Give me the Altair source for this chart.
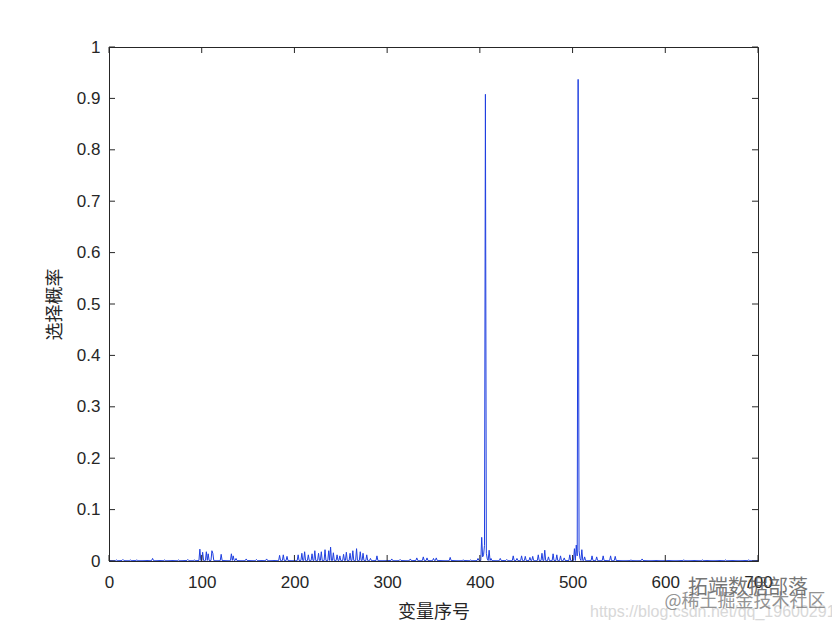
import altair as alt
import pandas as pd

# ---- data (sparse: unlisted variables sit at the baseline) ----
n_vars = 700
baseline = 0.001
spike_idx = [8, 15, 23, 30, 47, 60, 75, 85, 92,
             98, 101, 105, 107, 111, 112, 121, 132, 134, 137, 148, 159, 170,
             184, 188, 192, 204, 208, 211, 215, 219, 222, 226, 229, 233, 237,
             239, 242, 246, 249, 253, 256, 260, 263, 267, 271, 274, 278, 282,
             289, 305, 314, 325, 332, 339, 343, 350, 353, 368, 382, 390, 398,
             402, 403, 404, 405, 406, 407, 408, 410, 412, 422, 429, 436, 440,
             445, 449, 454, 457, 463, 467, 470, 474, 479, 483, 487, 491, 497,
             502, 504, 505, 506, 507, 508, 510, 513, 521, 526, 533, 541, 546,
             563, 575, 620, 640, 665, 690]
spike_val = [0.002, 0.003, 0.002, 0.002, 0.005, 0.002, 0.002, 0.003, 0.002,
             0.023, 0.017, 0.018, 0.014, 0.020, 0.015, 0.013, 0.014, 0.010, 0.005, 0.004, 0.003, 0.004,
             0.011, 0.012, 0.009, 0.012, 0.015, 0.018, 0.012, 0.014, 0.020, 0.015, 0.018, 0.022, 0.020,
             0.027, 0.016, 0.012, 0.010, 0.013, 0.017, 0.015, 0.020, 0.024, 0.018, 0.015, 0.012, 0.005,
             0.010, 0.004, 0.003, 0.004, 0.006, 0.008, 0.006, 0.005, 0.006, 0.007, 0.002, 0.002, 0.005,
             0.046, 0.008, 0.012, 0.030, 0.908, 0.015, 0.004, 0.021, 0.005, 0.005, 0.003, 0.010, 0.005,
             0.010, 0.009, 0.007, 0.009, 0.012, 0.015, 0.021, 0.008, 0.014, 0.012, 0.010, 0.006, 0.012,
             0.024, 0.031, 0.010, 0.937, 0.020, 0.005, 0.022, 0.008, 0.010, 0.008, 0.010, 0.010, 0.009,
             0.002, 0.004, 0.002, 0.002, 0.002, 0.002]

x_ticks = [0, 100, 200, 300, 400, 500, 600, 700]
y_ticks = [0, 0.1, 0.2, 0.3, 0.4, 0.5, 0.6, 0.7, 0.8, 0.9, 1]
x_title = "变量序号"
y_title = "选择概率"
watermarks = ["拓端数据部落", "@稀土掘金技术社区", "https://blog.csdn.net/qq_19600291"]

vals = {i: baseline for i in range(1, n_vars + 1)}
for i, v in zip(spike_idx, spike_val):
    vals[i] = v
df = pd.DataFrame({"idx": list(vals.keys()), "p": list(vals.values())})

W, H = 649, 514
AX = "#262626"
LABEL_FONT = "Liberation Sans"
CJK = "Noto Sans CJK SC"

xscale = alt.Scale(domain=[0, 700], nice=False, zero=False)
yscale = alt.Scale(domain=[0, 1], nice=False)

xaxis = alt.Axis(values=x_ticks, title=x_title, grid=False, tickSize=0, labelPadding=13,
                 labelFlush=False, labelFont=LABEL_FONT, labelFontSize=17, labelColor=AX,
                 domainColor=AX, titleFont=CJK, titleFontSize=18, titleFontWeight="normal",
                 titleColor=AX, titleY=51, titleBaseline="middle")
yaxis = alt.Axis(values=y_ticks, title=y_title, grid=False, tickSize=0, labelPadding=9,
                 labelFlush=False, format="~g", labelFont=LABEL_FONT, labelFontSize=17, labelColor=AX,
                 domainColor=AX, titleFont=CJK, titleFontSize=18, titleFontWeight="normal",
                 titleColor=AX, titleX=-54, titleBaseline="middle")

line = alt.Chart(df).mark_line(color="#1f3fe0", strokeWidth=1).encode(
    x=alt.X("idx:Q", scale=xscale, axis=xaxis),
    y=alt.Y("p:Q", scale=yscale, axis=yaxis),
)

xt = pd.DataFrame({"idx": x_ticks})
yt = pd.DataFrame({"p": y_ticks})
bottom_ticks = alt.Chart(xt).mark_rule(color=AX, strokeWidth=1).encode(
    x=alt.X("idx:Q", scale=xscale, axis=xaxis), y=alt.value(H), y2=alt.value(H - 6))
top_ticks = alt.Chart(xt).mark_rule(color=AX, strokeWidth=1).encode(
    x=alt.X("idx:Q", scale=xscale, axis=xaxis), y=alt.value(0), y2=alt.value(6))
left_ticks = alt.Chart(yt).mark_rule(color=AX, strokeWidth=1).encode(
    y=alt.Y("p:Q", scale=yscale, axis=yaxis), x=alt.value(0), x2=alt.value(6))
right_ticks = alt.Chart(yt).mark_rule(color=AX, strokeWidth=1).encode(
    y=alt.Y("p:Q", scale=yscale, axis=yaxis), x=alt.value(W), x2=alt.value(W - 6))

wm_df = pd.DataFrame({"t": watermarks, "k": [0, 1, 2]})
wm1 = alt.Chart(wm_df[wm_df.k == 0]).mark_text(font=CJK, fontSize=20, color="#555555", opacity=0.8).encode(
    text="t:N", x=alt.value(639), y=alt.value(541))
wm2 = alt.Chart(wm_df[wm_df.k == 1]).mark_text(font=CJK, fontSize=18, color="#707070", opacity=0.75).encode(
    text="t:N", x=alt.value(636), y=alt.value(555))
wm3 = alt.Chart(wm_df[wm_df.k == 2]).mark_text(font=LABEL_FONT, fontSize=16, color="#d4d4d4", opacity=0.9,
                                              align="left").encode(
    text="t:N", x=alt.value(481), y=alt.value(565))

chart = alt.layer(line, bottom_ticks, top_ticks, left_ticks, right_ticks, wm3, wm1, wm2).properties(
    width=W, height=H,
    autosize=alt.AutoSizeParams(type="none"),
    padding={"left": 101, "top": 39, "right": 74, "bottom": 60},
    background="white",
).configure_view(stroke=AX, strokeWidth=1)

chart.save("out.html", embed_options={"renderer": "svg", "actions": False})
